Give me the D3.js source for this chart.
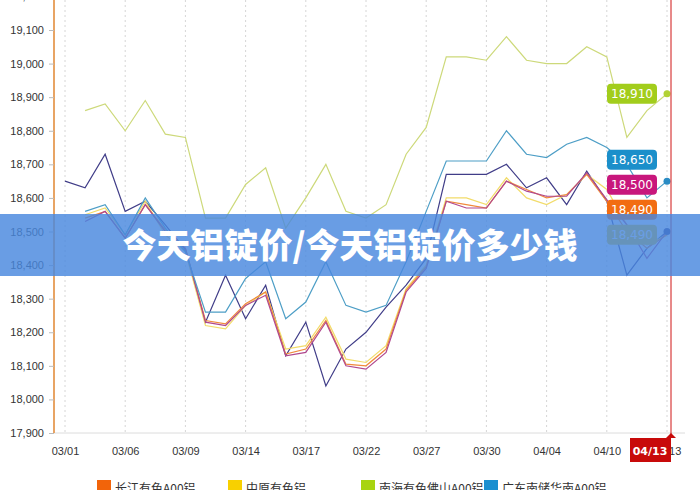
<!DOCTYPE html>
<html>
<head>
<meta charset="utf-8">
<script src="https://cdn.jsdelivr.net/npm/d3@7/dist/d3.min.js"></script>
<style>
	body { margin: 0; background: #fff; }
	svg { display: block; font-family: "DejaVu Sans", Verdana, sans-serif; }
</style>
</head>
<body>
<script>
// one point per trading day, 31 of them; every third one gets a tick label
const tickLabels = ['03/01', '03/06', '03/09', '03/14', '03/17', '03/22', '03/27', '03/30', '04/04', '04/10', '04/13'];
const yTicks = [17900, 18000, 18100, 18200, 18300, 18400, 18500, 18600, 18700, 18800, 18900, 19000, 19100, 19200];

const seriesNames = ['长江有色A00铝', '中原有色铝', '南海有色佛山A00铝', '广东南储华南A00铝'];

const changjiang = [null, 18540, 18560, 18480, 18580, 18505, 18450, 18235, 18225, 18285, 18320, 18135, 18150, 18235, 18105, 18100, 18150, 18325, 18395, 18590, 18580, 18570, 18650, 18625, 18600, 18610, 18670, 18590, 18500, 18450, 18490];
const zhongyuan = [null, 18550, 18570, 18490, 18590, 18490, 18440, 18220, 18210, 18280, 18320, 18150, 18160, 18245, 18120, 18110, 18160, 18330, 18400, 18600, 18600, 18580, 18660, 18600, 18580, 18610, 18670, 18625, 18520, 18460, 18490];
const nanhai = [null, 18860, 18880, 18800, 18890, 18790, 18780, 18540, 18540, 18640, 18690, 18510, 18600, 18700, 18560, 18540, 18580, 18730, 18810, 19020, 19020, 19010, 19080, 19010, 19000, 19000, 19050, 19020, 18780, 18860, 18910];
const guangdong = [null, 18560, 18580, 18490, 18600, 18510, 18440, 18260, 18260, 18360, 18410, 18240, 18290, 18410, 18280, 18260, 18280, 18410, 18560, 18710, 18710, 18710, 18800, 18730, 18720, 18760, 18780, 18750, 18700, 18600, 18650];
const magenta = [null, 18530, 18560, 18480, 18580, 18500, 18450, 18230, 18220, 18280, 18310, 18130, 18140, 18230, 18100, 18090, 18140, 18320, 18390, 18590, 18570, 18570, 18650, 18620, 18605, 18605, 18675, 18595, 18520, 18420, 18500];
const navy = [18650, 18630, 18730, 18560, 18590, 18520, 18445, 18230, 18370, 18240, 18340, 18130, 18230, 18040, 18150, 18200, 18275, 18340, 18420, 18670, 18670, 18670, 18700, 18630, 18660, 18580, 18680, 18590, 18370, 18450, 18500];

const width = 700;
const height = 490;

const svg = d3.select('body')
	.append('svg')
	.attr('width', width)
	.attr('height', height);

const xScale = d3.scaleLinear()
	.domain([0, 30])
	.range([65, 667]);

const yScale = d3.scaleLinear()
	.domain([17900, 19100])
	.range([433, 30]);

// vertical dotted grid, one every third point
svg.selectAll('line.grid')
	.data(tickLabels)
	.enter()
	.append('line')
	.attr('class', 'grid')
	.attr('x1', function(d, i) { return xScale(i * 3); })
	.attr('x2', function(d, i) { return xScale(i * 3); })
	.attr('y1', 0)
	.attr('y2', 433)
	.attr('stroke', '#d6d6d6')
	.attr('stroke-dasharray', '2,3');

// bottom axis
const xAxis = d3.axisBottom(xScale)
	.tickValues(d3.range(0, 31, 3))
	.tickFormat(function(d) { return tickLabels[d / 3]; })
	.tickSize(0)
	.tickPadding(14);

const gx = svg.append('g')
	.attr('transform', 'translate(0,433)')
	.call(xAxis);
gx.select('.domain').attr('d', 'M54,0H685').attr('stroke', '#dcdcdc');
gx.selectAll('text').attr('fill', '#333').style('font-size', '11px');

// left axis
const yAxis = d3.axisLeft(yScale)
	.tickValues(yTicks)
	.tickFormat(d3.format(','))
	.tickSize(5)
	.tickPadding(5);

const gy = svg.append('g')
	.attr('transform', 'translate(54,0)')
	.call(yAxis);
gy.select('.domain').attr('d', 'M0,-10V433').attr('stroke', '#e8a464').attr('stroke-width', 2);
gy.selectAll('.tick line').attr('stroke', '#bbb');
gy.selectAll('text').attr('fill', '#333').style('font-size', '11px');

const lineSeries = [
	{ values: navy, color: '#403d88' },
	{ values: zhongyuan, color: '#f2dc6a' },
	{ values: changjiang, color: '#f08a3c' },
	{ values: magenta, color: '#b0488e' },
	{ values: guangdong, color: '#4d9ec6' },
	{ values: nanhai, color: '#cdd97a' }
];

const line = d3.line()
	.defined(function(d) { return d !== null; })
	.x(function(d, i) { return xScale(i); })
	.y(function(d) { return yScale(d); });

svg.selectAll('path.series')
	.data(lineSeries)
	.enter()
	.append('path')
	.attr('class', 'series')
	.attr('d', function(d) { return line(d.values); })
	.attr('fill', 'none')
	.attr('stroke', function(d) { return d.color; })
	.attr('stroke-width', 1.2);

// end dots
const dots = [
	{ v: navy[30], color: '#3a3a88' },
	{ v: guangdong[30], color: '#2a8cc4' },
	{ v: nanhai[30], color: '#b2d234' }
];
svg.selectAll('circle.end')
	.data(dots)
	.enter()
	.append('circle')
	.attr('class', 'end')
	.attr('cx', xScale(30))
	.attr('cy', function(d) { return yScale(d.v); })
	.attr('r', 3.5)
	.attr('fill', function(d) { return d.color; });

// value tags on the right, stacked from the bottom up so they don't overlap
const tags = [
	{ v: nanhai[30], color: '#a2cd1c' },
	{ v: guangdong[30], color: '#1b8fca' },
	{ v: magenta[30], color: '#c8177c' },
	{ v: changjiang[30], color: '#f26c12' },
	{ v: zhongyuan[30], color: '#eec81a' }
];
let below = Infinity;
for (let k = tags.length - 1; k >= 0; k--) {
	tags[k].y = Math.min(yScale(tags[k].v), below - 25);
	below = tags[k].y;
}

const tag = svg.selectAll('g.tag')
	.data(tags)
	.enter()
	.append('g')
	.attr('class', 'tag')
	.attr('transform', function(d) { return 'translate(632,' + d.y + ')'; });
tag.append('rect')
	.attr('x', -25)
	.attr('y', -10)
	.attr('width', 50)
	.attr('height', 20)
	.attr('rx', 4)
	.attr('fill', function(d) { return d.color; });
tag.append('text')
	.attr('text-anchor', 'middle')
	.attr('dy', '0.36em')
	.attr('fill', '#fff')
	.style('font-size', '12px')
	.text(function(d) { return d3.format(',')(d.v); });

// crosshair on the last day
svg.append('line')
	.attr('x1', 671).attr('x2', 671)
	.attr('y1', 0).attr('y2', 438)
	.attr('stroke', '#d01414')
	.attr('stroke-width', 1);
svg.append('rect')
	.attr('x', 630).attr('y', 438)
	.attr('width', 41).attr('height', 24)
	.attr('fill', '#c80a0a');
svg.append('path')
	.attr('d', 'M666,438L671,433L676,438Z')
	.attr('fill', '#c80a0a');
svg.append('text')
	.attr('x', 650).attr('y', 455)
	.attr('text-anchor', 'middle')
	.attr('fill', '#fff')
	.style('font-size', '11px')
	.style('font-weight', 'bold')
	.text(tickLabels[tickLabels.length - 1]);

// legend, only its top edge fits in the window
const legendX = [97, 228, 361, 484];
const legendColors = ['#f2640a', '#f8d000', '#a8d410', '#1a8fd0'];
const legend = svg.selectAll('g.legend')
	.data(seriesNames)
	.enter()
	.append('g')
	.attr('class', 'legend')
	.attr('transform', function(d, i) { return 'translate(' + legendX[i] + ',480)'; });
legend.append('rect')
	.attr('width', 14)
	.attr('height', 14)
	.attr('fill', function(d, i) { return legendColors[i]; });
legend.append('text')
	.attr('x', 18)
	.attr('y', 13)
	.attr('fill', '#333')
	.style('font-family', '"Noto Sans CJK SC", sans-serif')
	.style('font-size', '12px')
	.text(function(d) { return d; });

// title banner laid over the chart
svg.append('rect')
	.attr('x', 0).attr('y', 214)
	.attr('width', width).attr('height', 62)
	.attr('fill', 'rgb(72,136,222)')
	.attr('fill-opacity', 0.82);
svg.append('text')
	.attr('x', 350).attr('y', 258)
	.attr('text-anchor', 'middle')
	.attr('fill', '#fff')
	.style('font-family', '"Noto Sans CJK SC", sans-serif')
	.style('font-weight', 900)
	.style('font-size', '34px')
	.text('今天铝锭价/今天铝锭价多少钱');
</script>
</body>
</html>
